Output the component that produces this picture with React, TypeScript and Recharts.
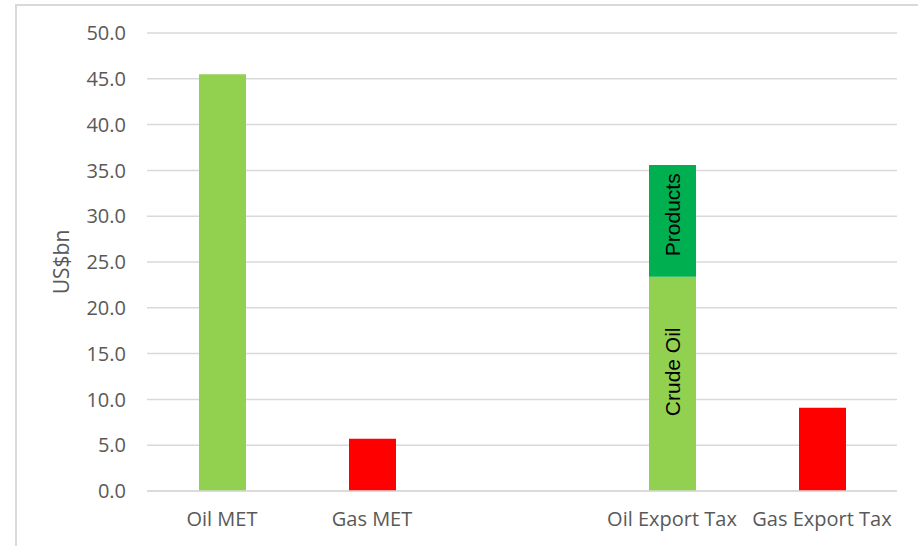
import { BarChart, Bar, XAxis, YAxis, CartesianGrid, Cell, LabelList } from 'recharts';

const categories = ['Oil MET', 'Gas MET', '', 'Oil Export Tax', 'Gas Export Tax'];
const baseValues = [45.5, 5.7, null, 23.4, 9.1];
const productValues = [null, null, null, 12.2, null];
const baseLabels = ['', '', '', 'Crude Oil', ''];
const productLabels = ['', '', '', 'Products', ''];
const yTicks = [0, 5, 10, 15, 20, 25, 30, 35, 40, 45, 50];

const LIGHT_GREEN = '#92d050';
const DARK_GREEN = '#00b050';
const RED = '#ff0000';
const baseColors = [LIGHT_GREEN, RED, LIGHT_GREEN, LIGHT_GREEN, RED];

const data = categories.map((name, i) => ({
  name,
  base: baseValues[i],
  products: productValues[i],
  baseLabel: baseLabels[i],
  productLabel: productLabels[i],
}));

const tickFont = { fontFamily: 'Open Sans', fontSize: 20, fill: '#595959' };

function InBarLabel(props: any) {
  const { x, y, width, height, value, shift } = props;
  if (!value) return null;
  const cx = x + width / 2;
  const cy = y + height / 2 + (shift ?? 0);
  return (
    <text
      x={cx}
      y={cy}
      transform={`rotate(-90 ${cx} ${cy})`}
      textAnchor="middle"
      dominantBaseline="central"
      fontFamily="Liberation Sans, Arial"
      fontSize={21}
      fill="#000"
    >
      {value}
    </text>
  );
}

export default function App() {
  return (
    <div style={{ position: 'absolute', left: 0, top: 0, width: 918, height: 546, overflow: 'hidden', background: '#fff' }}>
      <div
        style={{
          position: 'absolute',
          left: 15,
          top: 4,
          width: 1000,
          height: 700,
          borderLeft: '2px solid #d9d9d9',
          borderTop: '2px solid #d9d9d9',
        }}
      />
      <div style={{ position: 'absolute', left: 0, top: 0 }}>
        <BarChart width={918} height={546} data={data} margin={{ top: 33, right: 21, left: 87, bottom: 0 }}>
          <CartesianGrid vertical={false} stroke="#d9d9d9" strokeWidth={1.5} />
          <XAxis
            dataKey="name"
            height={55}
            tickLine={false}
            tickSize={0}
            tickMargin={21}
            axisLine={{ stroke: '#d9d9d9', strokeWidth: 1.5 }}
            tick={tickFont}
            interval={0}
          />
          <YAxis
            width={60}
            domain={[0, 50]}
            ticks={yTicks}
            tickFormatter={(v: number) => v.toFixed(1)}
            axisLine={false}
            tickLine={false}
            tickSize={0}
            tickMargin={21}
            tick={tickFont}
            label={{
              content: ({ viewBox }: any) => {
                const lx = viewBox.x - 26;
                const ly = viewBox.y + viewBox.height / 2;
                return (
                  <text
                    x={lx}
                    y={ly}
                    transform={`rotate(-90 ${lx} ${ly})`}
                    textAnchor="middle"
                    dominantBaseline="central"
                    fontFamily="Open Sans"
                    fontSize={21}
                    fill="#595959"
                  >
                    US$bn
                  </text>
                );
              },
            }}
          />
          <Bar dataKey="base" stackId="a" barSize={47} isAnimationActive={false}>
            {data.map((d, i) => (
              <Cell key={d.name + i} fill={baseColors[i]} />
            ))}
            <LabelList dataKey="baseLabel" content={(p: any) => <InBarLabel {...p} shift={-12} />} />
          </Bar>
          <Bar dataKey="products" stackId="a" barSize={47} fill={DARK_GREEN} isAnimationActive={false}>
            <LabelList dataKey="productLabel" content={(p: any) => <InBarLabel {...p} shift={-6} />} />
          </Bar>
        </BarChart>
      </div>
    </div>
  );
}
